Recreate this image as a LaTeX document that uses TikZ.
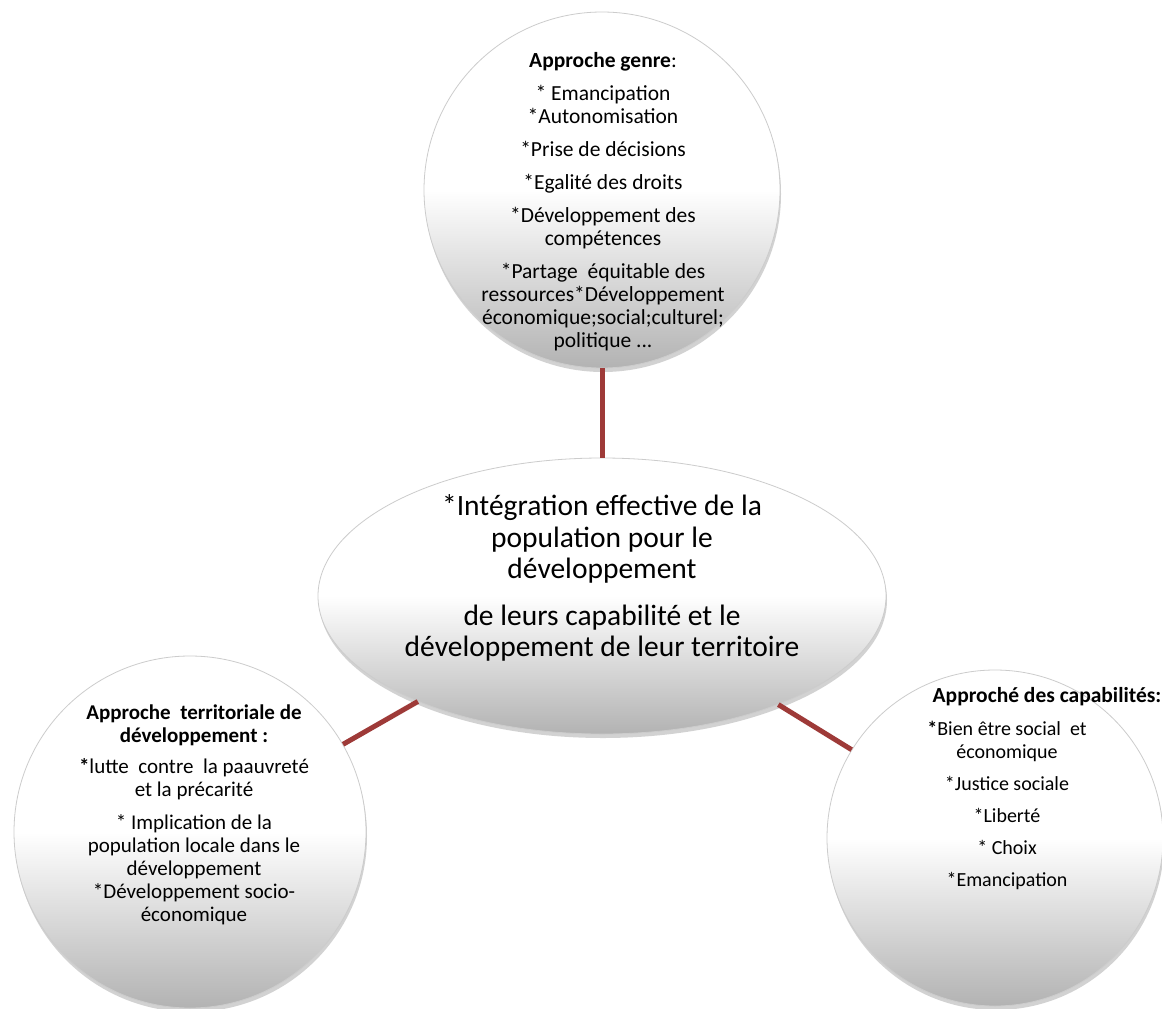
\documentclass[tikz,border=0pt]{standalone}
\usepackage{fontspec}
\setmainfont{Carlito}
\usetikzlibrary{shapes.geometric,shadows}
\definecolor{linkred}{RGB}{158,58,56}
\definecolor{rimgray}{gray}{0.80}
\begin{document}
\begin{tikzpicture}[x=1pt,y=-1pt,
  softfill/.style={top color=white, bottom color=black!30, middle color=white},
  bubble/.style={circle, inner sep=0pt, softfill, draw=rimgray, line width=0.8pt,
    drop shadow={opacity=0.35, shadow xshift=1pt, shadow yshift=-4pt}},
  hub/.style={ellipse, inner sep=0pt, softfill, draw=rimgray, line width=0.8pt,
    drop shadow={opacity=0.35, shadow xshift=1pt, shadow yshift=-4pt}},
  link/.style={draw=linkred, line width=5pt},
  bodytext/.style={align=center, font=\fontsize{21.5}{23}\selectfont, inner sep=0pt},
  sidetext/.style={align=center, font=\fontsize{21}{23}\selectfont, inner sep=0pt},
  righttext/.style={align=center, font=\fontsize{20}{23}\selectfont, inner sep=0pt},
  hubtext/.style={align=center, font=\fontsize{29.5}{31.5}\selectfont, inner sep=0pt}]
\useasboundingbox (0,0) rectangle (1162,1009);
\fill[white] (0,0) rectangle (1162,1009);

\node[bubble, minimum size=356pt] (top) at (602,190) {};
\node[hub, minimum width=568pt, minimum height=276pt] (hub) at (602,596) {};
\node[bubble, minimum size=352pt] (left) at (190,832) {};
\node[bubble, minimum size=336pt] (right) at (995,838) {};

\draw[link] (top) -- (hub);
\draw[link] (left) -- (hub);
\draw[link] (right) -- (hub);

\node[bodytext] (topTxt) at (603,202) {\textbf{Approche genre}:\\[10pt]
{*} Emancipation\\ {*}Autonomisation\\[10pt]
{*}Prise de décisions\\[10pt]
{*}Egalité des droits\\[10pt]
{*}Développement des\\ compétences\\[10pt]
{*}Partage~ équitable des\\ ressources*Développement\\ économique;social;culturel;\\ politique ...};

\node[hubtext] (hubTxt) at (602,578) {{*}Intégration effective de la\\ population pour le\\ développement\\[15pt]
de leurs capabilité et le\\ développement de leur territoire};

\node[sidetext] (leftTxt) at (194,815) {\textbf{Approche~ territoriale de}\\ \textbf{développement :}\\[8pt]
{\bfseries *}lutte~ contre~ la paauvreté\\ et la précarité\\[10pt]
{*} Implication de la\\ population locale dans le\\ développement\\ {*}Développement socio-\\ économique};

\node[sidetext, font=\fontsize{21.5}{23}\selectfont] (rightTitle) at (1047,697) {\textbf{Approché des capabilités:}};
\node[righttext] (rightTxt) at (1007,805) {{\bfseries *}Bien être social~ et\\ économique\\[9pt]
{*}Justice sociale\\[9pt] {*}Liberté\\[9pt] {*} Choix\\[9pt] {*}Emancipation};
\end{tikzpicture}
\end{document}
